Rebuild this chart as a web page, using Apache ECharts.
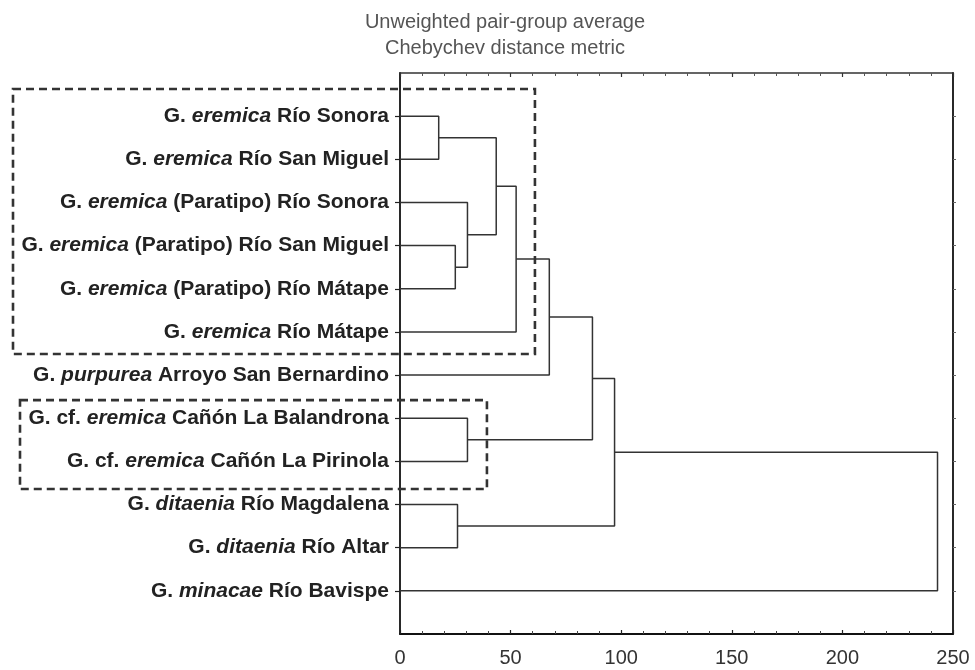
<!DOCTYPE html>
<html>
<head>
<meta charset="utf-8">
<script src="https://cdn.jsdelivr.net/npm/echarts@6/dist/echarts.min.js"></script>
<style>
html,body{margin:0;padding:0;background:#fff;}
#chart{width:975px;height:670px;}
</style>
</head>
<body>
<div id="chart"></div>
<script>
// ---- data ----
const labelPrefix = ['G. ', 'G. ', 'G. ', 'G. ', 'G. ', 'G. ', 'G. ', 'G. cf. ', 'G. cf. ', 'G. ', 'G. ', 'G. '];
const labelSpecies = ['eremica', 'eremica', 'eremica', 'eremica', 'eremica', 'eremica', 'purpurea', 'eremica', 'eremica', 'ditaenia', 'ditaenia', 'minacae'];
const labelLocality = ['Río Sonora', 'Río San Miguel', '(Paratipo) Río Sonora', '(Paratipo) Río San Miguel', '(Paratipo) Río Mátape', 'Río Mátape', 'Arroyo San Bernardino', 'Cañón La Balandrona', 'Cañón La Pirinola', 'Río Magdalena', 'Río Altar', 'Río Bavispe'];

// merges: leaves are 0..11, merge k creates node 12+k
const mergeLeft = [0, 3, 2, 12, 15, 16, 7, 17, 9, 19, 21];
const mergeRight = [1, 4, 13, 14, 5, 6, 8, 18, 10, 20, 11];
const mergeHeight = [17.5, 25, 30.5, 43.5, 52.5, 67.5, 30.5, 87, 26, 97, 243];

const xTicks = [0, 50, 100, 150, 200, 250];
const titleLines = ['Unweighted pair-group average', 'Chebychev distance metric'];

// ---- build ----
const nLeaves = labelSpecies.length;
const leafPositions = [];
const nodeX = [], nodeY = [];
for (let i = 0; i < nLeaves; i++) { nodeX[i] = 0; nodeY[i] = i + 1; leafPositions.push(i + 1); }
const series = [];
for (let k = 0; k < mergeHeight.length; k++) {
  const l = mergeLeft[k], r = mergeRight[k], h = mergeHeight[k];
  const id = nLeaves + k;
  nodeX[id] = h;
  nodeY[id] = (nodeY[l] + nodeY[r]) / 2;
  series.push({
    type: 'line',
    symbol: 'none',
    silent: true,
    animation: false,
    xAxisIndex: 0,
    yAxisIndex: 0,
    lineStyle: { color: '#333', width: 1.5 },
    data: [[nodeX[l], nodeY[l]], [h, nodeY[l]], [h, nodeY[r]], [nodeX[r], nodeY[r]]]
  });
}

const FONT = '"Liberation Sans", Arial, sans-serif';
const rich = {
  p: { fontFamily: FONT, fontSize: 21, fontWeight: 'bold', color: '#222' },
  i: { fontFamily: FONT, fontSize: 21, fontWeight: 'bold', fontStyle: 'italic', color: '#222' },
  n: { fontFamily: FONT, fontSize: 21, fontWeight: 'bold', color: '#222' }
};

const chart = echarts.init(document.getElementById('chart'), null, { renderer: 'canvas' });
const axisLineStyle = { color: '#111', width: 1.8 };

chart.setOption({
  animation: false,
  backgroundColor: '#fff',
  title: {
    text: titleLines.join('\n'),
    left: 500,
    top: 4,
    textAlign: 'center',
    textStyle: { fontFamily: FONT, fontSize: 20, fontWeight: 'normal', color: '#555', lineHeight: 26 }
  },
  grid: { left: 400, right: 22, top: 73, bottom: 36, containLabel: false },
  xAxis: [
    {
      type: 'value', min: xTicks[0], max: xTicks[xTicks.length - 1], interval: xTicks[1] - xTicks[0],
      position: 'bottom',
      axisLine: { show: true, onZero: false, lineStyle: axisLineStyle },
      axisTick: { show: true, inside: true, length: 4, lineStyle: { color: '#222', width: 1.2 } },
      minorTick: { show: true, splitNumber: 5, length: 3, lineStyle: { color: '#444', width: 1 } },
      splitLine: { show: false },
      axisLabel: { margin: 14, fontFamily: FONT, fontSize: 20, color: '#333' }
    },
    {
      type: 'value', min: xTicks[0], max: xTicks[xTicks.length - 1], interval: xTicks[1] - xTicks[0],
      position: 'top',
      axisLine: { show: true, onZero: false, lineStyle: { color: '#333', width: 1.6 } },
      axisTick: { show: true, inside: true, length: 4, lineStyle: { color: '#333', width: 1.2 } },
      minorTick: { show: true, splitNumber: 5, length: 3, lineStyle: { color: '#555', width: 1 } },
      splitLine: { show: false },
      axisLabel: { show: false }
    }
  ],
  yAxis: [
    {
      type: 'value', min: 0, max: nLeaves + 1, interval: 1, inverse: true,
      position: 'left',
      axisLine: { show: true, onZero: false, lineStyle: axisLineStyle },
      axisTick: { show: true, inside: false, length: 5, customValues: leafPositions, lineStyle: { color: '#222', width: 1.2 } },
      splitLine: { show: false },
      axisLabel: {
        margin: 11,
        customValues: leafPositions,
        formatter: function (v) {
          const i = Math.round(v) - 1;
          if (i < 0 || i >= nLeaves) return '';
          return '{p|' + labelPrefix[i] + '}{i|' + labelSpecies[i] + '}{n| ' + labelLocality[i] + '}';
        },
        rich: rich
      }
    },
    {
      type: 'value', min: 0, max: nLeaves + 1, interval: 1, inverse: true,
      position: 'right',
      axisLine: { show: true, onZero: false, lineStyle: axisLineStyle },
      axisTick: { show: true, inside: false, length: 3, customValues: leafPositions, lineStyle: { color: '#666', width: 1 } },
      splitLine: { show: false },
      axisLabel: { show: false }
    }
  ],
  series: series
});

// dashed group boxes (annotation): right/top/bottom in data coordinates, left edge in pixels
const boxes = [
  { leftPx: 13, xRight: 61, yTop: 0.37, yBottom: 6.51 },
  { leftPx: 20, xRight: 39.3, yTop: 7.58, yBottom: 9.64 }
];
const graphics = boxes.map(function (b) {
  const p1 = chart.convertToPixel({ gridIndex: 0 }, [b.xRight, b.yTop]);
  const p2 = chart.convertToPixel({ gridIndex: 0 }, [b.xRight, b.yBottom]);
  return {
    type: 'rect',
    silent: true,
    z: 100,
    shape: { x: b.leftPx, y: p1[1], width: p1[0] - b.leftPx, height: p2[1] - p1[1] },
    style: { fill: 'none', stroke: '#333', lineWidth: 2.6, lineDash: [8, 5] }
  };
});
chart.setOption({ graphic: graphics });
</script>
</body>
</html>
